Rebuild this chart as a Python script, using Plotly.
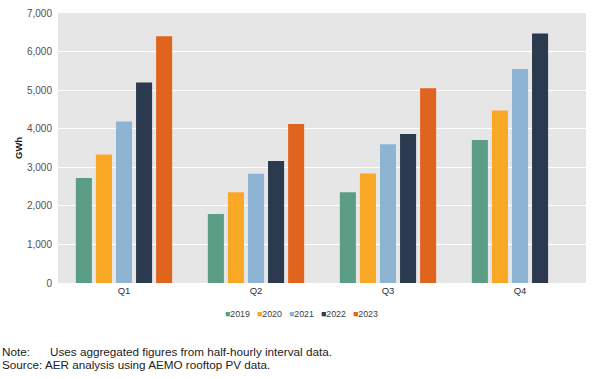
import plotly.graph_objects as go

quarters = ["Q1", "Q2", "Q3", "Q4"]
years = ["2019", "2020", "2021", "2022", "2023"]
v2019 = [2720, 1790, 2350, 3710]
v2020 = [3330, 2350, 2840, 4470]
v2021 = [4190, 2830, 3600, 5550]
v2022 = [5200, 3160, 3860, 6470]
v2023 = [6400, 4120, 5050, None]
series = [v2019, v2020, v2021, v2022, v2023]
colors = ["#5B9E85", "#F9A826", "#8DB4D2", "#2B3A4E", "#E0631E"]

y_ticks = [0, 1000, 2000, 3000, 4000, 5000, 6000, 7000]

W, H = 600, 379
ml, mr, mt, mb = 58, 14, 13, 96
pw, ph = W - ml - mr, H - mt - mb

fig = go.Figure()
for yr, vals, col in zip(years, series, colors):
    fig.add_trace(go.Bar(x=quarters, y=vals, name=yr, marker_color=col,
                         marker_line_width=0, showlegend=False))

font_family = "Liberation Sans, Arial, sans-serif"


def px_x(x):
    return (x - ml) / pw


def px_y(y):
    return (mt + ph - y) / ph


# compact legend drawn as text
leg_center = 301
leg_step = 32
for i, (yr, col) in enumerate(zip(years, colors)):
    xc = leg_center + (i - 2) * leg_step
    fig.add_annotation(
        x=px_x(xc), y=px_y(314), xref="paper", yref="paper",
        xanchor="center", yanchor="middle", showarrow=False,
        text=f"<span style='color:{col}'>■</span>{yr}",
        font=dict(size=8.8, color="#404040", family=font_family))

# y-axis title
fig.add_annotation(x=px_x(18), y=px_y(148), xref="paper", yref="paper",
                   xanchor="center", yanchor="middle", showarrow=False,
                   text="<b>GWh</b>", textangle=-90,
                   font=dict(size=9.5, color="#202020", family=font_family))

# notes
note_font = dict(size=11.7, color="#222222", family=font_family)
fig.add_annotation(x=px_x(0), y=px_y(351), xref="paper", yref="paper",
                   xanchor="left", yanchor="middle", showarrow=False, text="Note:",
                   font=note_font)
fig.add_annotation(x=px_x(48), y=px_y(351), xref="paper", yref="paper",
                   xanchor="left", yanchor="middle", showarrow=False,
                   text="Uses aggregated figures from half-hourly interval data.",
                   font=note_font)
fig.add_annotation(x=px_x(0), y=px_y(364), xref="paper", yref="paper",
                   xanchor="left", yanchor="middle", showarrow=False,
                   text="Source: AER analysis using AEMO rooftop PV data.",
                   font=note_font)

fig.update_layout(
    width=W, height=H,
    margin=dict(l=ml, r=mr, t=mt, b=mb),
    paper_bgcolor="white", plot_bgcolor="#E6E6E6",
    barmode="group", bargap=0.24, bargroupgap=0.2,
    font=dict(family=font_family, size=9, color="#404040"),
    xaxis=dict(showgrid=False, showline=False, ticks="", automargin=False,
               tickfont=dict(size=9.5, color="#303030")),
    yaxis=dict(range=[0, 7000], tickvals=y_ticks, tickformat=",", showgrid=True,
               gridcolor="white", gridwidth=1, zeroline=False, showline=False,
               automargin=False, ticklabelstandoff=5,
               tickfont=dict(size=10, color="#505050")),
)

fig.write_html("out.html", config={"displayModeBar": False},
               post_script="document.body.style.margin='0';")
